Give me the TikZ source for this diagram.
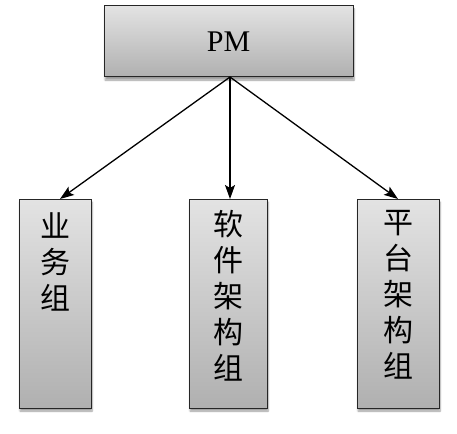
\documentclass[tikz,border=0pt]{standalone}
\usepackage{fontspec}
\setmainfont{Liberation Serif}
\newfontfamily\cjk{Noto Sans CJK SC}
\usetikzlibrary{shadows.blur,arrows.meta}
\tikzset{
  box/.style={draw=black!85, line width=1pt, top color=gray!22, bottom color=gray!62,
    inner sep=0pt, outer sep=0pt,
    blur shadow={shadow xshift=1pt, shadow yshift=-3pt, shadow blur steps=6, shadow opacity=40}},
  conn/.style={line width=1.3pt, -{Stealth[length=14pt,width=10pt,inset=3pt]}},
  vtext/.style={font=\cjk\fontsize{30}{36}\selectfont, align=center, anchor=north}
}
\begin{document}
\begin{tikzpicture}[x=1pt,y=-1pt]
\useasboundingbox (0,0) rectangle (457,433);
\node[box, minimum width=249pt, minimum height=71pt, font=\fontsize{30}{36}\selectfont] (pm) at (228.5,41.5) {PM};
\node[box, minimum width=72pt, minimum height=209pt] (lb) at (55,303.5) {};
\node[box, minimum width=78pt, minimum height=209pt] (mb) at (228,303.5) {};
\node[box, minimum width=82pt, minimum height=209pt] (rb) at (398,303.5) {};
\node[vtext] (l) at (55,209) {业\\务\\组};
\node[vtext] (m) at (228,207) {软\\件\\架\\构\\组};
\node[vtext] (r) at (398,207) {平\\台\\架\\构\\组};
\coordinate (pmb) at ([xshift=1.5pt]pm.south);
\coordinate (lt) at ([xshift=5pt]lb.north);
\coordinate (mt) at ([xshift=2pt]mb.north);
\coordinate (rt) at (rb.north);
\draw[conn] (pmb) -- (lt);
\draw[conn] (pmb) -- (mt);
\draw[conn] (pmb) -- (rt);
\end{tikzpicture}
\end{document}
